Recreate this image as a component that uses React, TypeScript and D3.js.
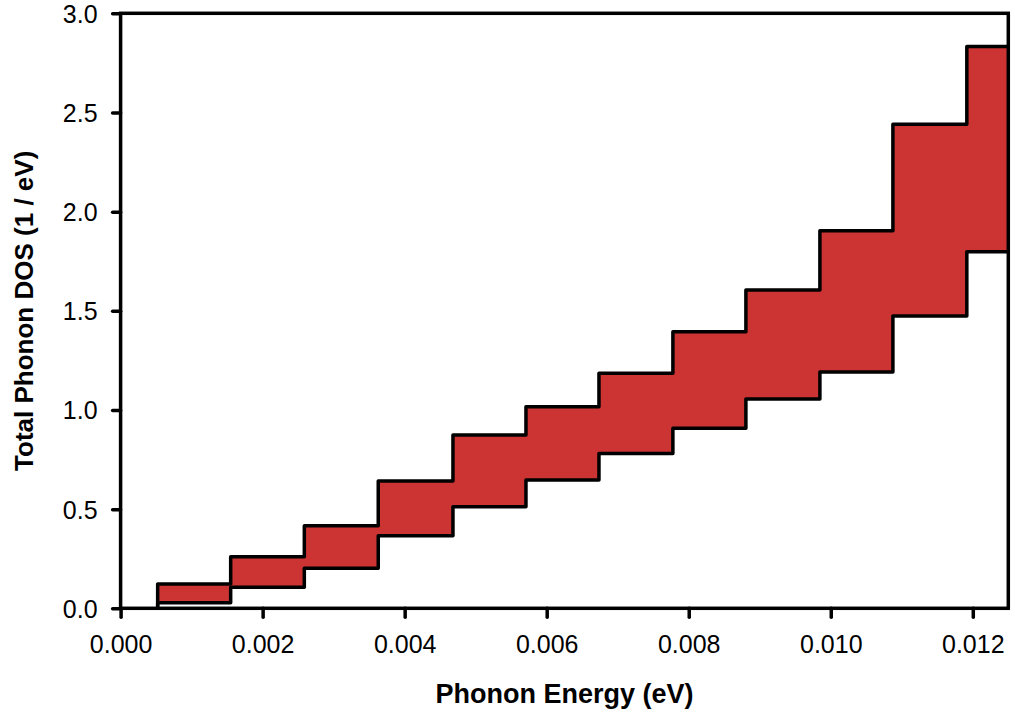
import React, { useEffect, useRef } from "react";
import * as d3 from "d3";

// Bin edges (eV) of the histogram-like DOS band
const binEdges = [
  0.000522, 0.00155, 0.002587, 0.003628, 0.00468, 0.005708, 0.006736,
  0.007777, 0.008805, 0.009847, 0.010875, 0.011916, 0.0125,
];
// Upper bound of total phonon DOS per bin (1/eV)
const upperDOS = [
  0.1225, 0.26, 0.4165, 0.642, 0.874, 1.0165, 1.185, 1.395, 1.605, 1.904,
  2.44, 2.832,
];
// Lower bound of total phonon DOS per bin (1/eV)
const lowerDOS = [
  0.028, 0.106, 0.202, 0.366, 0.512, 0.647, 0.781, 0.908, 1.055, 1.191,
  1.474, 1.798,
];
const xTicks = [0, 0.002, 0.004, 0.006, 0.008, 0.01, 0.012];
const yTicks = [0, 0.5, 1.0, 1.5, 2.0, 2.5, 3.0];

const W = 1015;
const H = 717;
const M = { left: 120.6, right: 1008.3, top: 13.3, bottom: 608.3 };
const FONT = "'Liberation Sans', Arial, Helvetica, sans-serif";
const SW = 3.5;

export default function App() {
  const xAxisRef = useRef<SVGGElement>(null);
  const yAxisRef = useRef<SVGGElement>(null);

  const x = d3.scaleLinear().domain([0, 0.0125]).range([M.left, M.right]);
  const y = d3.scaleLinear().domain([0, 3]).range([M.bottom, M.top]);

  type P = { e: number; lo: number; up: number };
  const pts: P[] = upperDOS.map((u, i) => ({ e: binEdges[i], lo: lowerDOS[i], up: u }));
  const last = upperDOS.length - 1;
  pts.push({ e: binEdges[binEdges.length - 1], lo: lowerDOS[last], up: upperDOS[last] });

  const area = d3
    .area<P>()
    .curve(d3.curveStepAfter)
    .x((d) => x(d.e))
    .y0((d) => y(d.lo))
    .y1((d) => y(d.up));

  const line = d3
    .line<[number, number]>()
    .curve(d3.curveStepAfter)
    .x((d) => x(d[0]))
    .y((d) => y(d[1]));

  const upperPts: [number, number][] = [[binEdges[0], 0], ...pts.map((p) => [p.e, p.up] as [number, number])];
  const lowerPts: [number, number][] = [[binEdges[0], 0], ...pts.map((p) => [p.e, p.lo] as [number, number])];

  useEffect(() => {
    if (xAxisRef.current) {
      const g = d3.select(xAxisRef.current);
      g.selectAll("*").remove();
      g.call(
        d3
          .axisBottom(x)
          .tickValues(xTicks)
          .tickFormat(d3.format(".3f") as any)
          .tickSize(9)
          .tickPadding(18)
      );
      g.select(".domain").remove();
      g.selectAll(".tick line")
        .attr("stroke", "#000")
        .attr("stroke-width", SW)
        .attr("stroke-linecap", "round");
      g.selectAll(".tick text")
        .attr("fill", "#000")
        .style("font-family", FONT)
        .style("font-size", "25px");
    }
    if (yAxisRef.current) {
      const g = d3.select(yAxisRef.current);
      g.selectAll("*").remove();
      g.call(
        d3
          .axisLeft(y)
          .tickValues(yTicks)
          .tickFormat(d3.format(".1f") as any)
          .tickSize(8)
          .tickPadding(15)
      );
      g.select(".domain").remove();
      g.selectAll(".tick line")
        .attr("stroke", "#000")
        .attr("stroke-width", SW)
        .attr("stroke-linecap", "round");
      g.selectAll(".tick text")
        .attr("fill", "#000")
        .attr("dy", "0.36em")
        .style("font-family", FONT)
        .style("font-size", "25px");
    }
  });

  return (
    <svg
      width={W}
      height={H}
      style={{ position: "absolute", left: 0, top: 0, background: "#fff" }}
    >
      <rect x={0} y={0} width={W} height={H} fill="#fff" />
      <path d={area(pts) || ""} fill="#CC3333" stroke="none" />
      <path
        d={line(upperPts) || ""}
        fill="none"
        stroke="#000"
        strokeWidth={SW}
        strokeLinejoin="round"
      />
      <path
        d={line(lowerPts) || ""}
        fill="none"
        stroke="#000"
        strokeWidth={SW}
        strokeLinejoin="round"
      />
      {/* frame */}
      <rect
        x={M.left}
        y={M.top}
        width={M.right - M.left}
        height={M.bottom - M.top}
        fill="none"
        stroke="#000"
        strokeWidth={SW}
      />
      <g ref={xAxisRef} transform={`translate(0,${M.bottom})`} />
      <g ref={yAxisRef} transform={`translate(${M.left},0)`} />
      <text
        x={(M.left + M.right) / 2}
        y={703}
        textAnchor="middle"
        fontFamily={FONT}
        fontWeight="bold"
        fontSize={27}
        fill="#000"
      >
        Phonon Energy (eV)
      </text>
      <text
        transform={`translate(33,${(M.top + M.bottom) / 2}) rotate(-90)`}
        textAnchor="middle"
        fontFamily={FONT}
        fontWeight="bold"
        fontSize={26}
        fill="#000"
      >
        Total Phonon DOS (1 / eV)
      </text>
    </svg>
  );
}
